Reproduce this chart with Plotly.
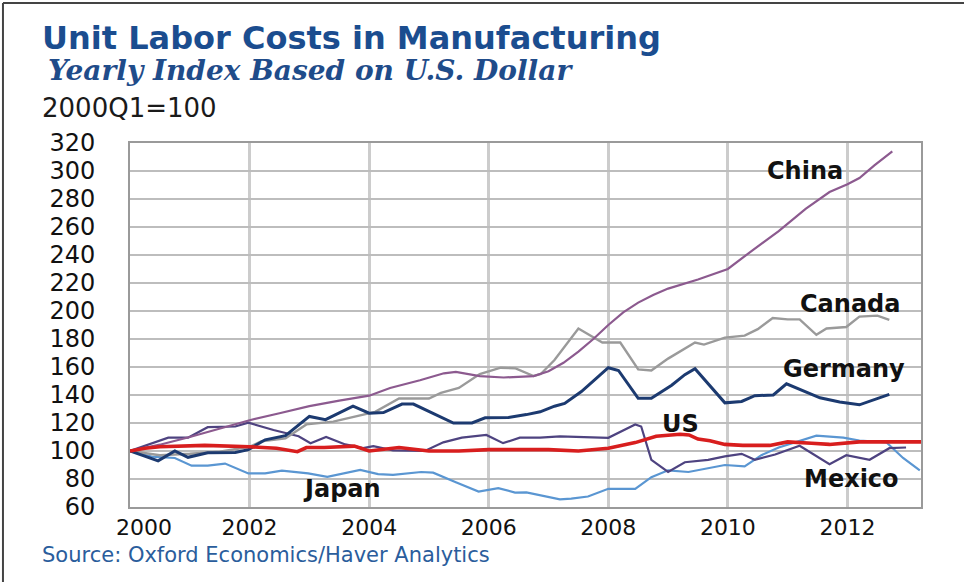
import plotly.graph_objects as go

# Unit labor costs in manufacturing, index 2000Q1 = 100 (x in decimal years)
china_x = [2000, 2000.5, 2001, 2001.5, 2002, 2002.5, 2003, 2003.5, 2004, 2004.35, 2004.85,
           2005.25, 2005.45, 2005.85, 2006.25, 2006.75, 2007.0, 2007.25, 2007.5, 2007.75,
           2008.0, 2008.25, 2008.5, 2008.75, 2009.0, 2009.5, 2010.0, 2010.4, 2010.85,
           2011.3, 2011.7, 2012.0, 2012.2, 2012.45, 2012.75]
china_y = [100, 104.5, 110, 116, 122, 127, 132, 136, 139.5, 145, 150.5,
           155.5, 156.5, 153.5, 152.5, 153.5, 157, 163, 171, 180,
           190, 199, 206, 211.5, 216, 222.5, 230, 243, 257,
           273, 285, 290.5, 295, 304, 314]

canada_x = [2000, 2000.5, 2001, 2001.5, 2002, 2002.2, 2002.6, 2002.95, 2003.4, 2003.9, 2004.1,
            2004.5, 2005.0, 2005.2, 2005.5, 2005.85, 2006.2, 2006.45, 2006.75, 2006.87, 2007.1,
            2007.5, 2007.9, 2008.2, 2008.5, 2008.72, 2009.0, 2009.45, 2009.6, 2009.95, 2010.28,
            2010.5, 2010.75, 2011.0, 2011.2, 2011.48, 2011.65, 2011.98, 2012.2, 2012.5, 2012.7]
canada_y = [100, 97, 98, 99.5, 103, 107, 109, 119, 121, 126, 128,
            137.5, 137.5, 141.5, 145, 155, 159.5, 159, 153.5, 155, 165,
            187.5, 177.5, 177.5, 158.3, 157.5, 166, 177.5, 176, 181, 182.4,
            187, 195, 194, 194, 183, 187.5, 188.6, 196, 196.7, 193.7]

germany_x = [2000, 2000.47, 2000.75, 2000.97, 2001.3, 2001.76, 2001.98, 2002.26, 2002.6, 2003.0,
             2003.27, 2003.73, 2004.0, 2004.24, 2004.55, 2004.74, 2005.41, 2005.72, 2005.94,
             2006.33, 2006.63, 2006.86, 2007.1, 2007.27, 2007.55, 2007.78, 2008.0, 2008.17,
             2008.5, 2008.72, 2009.06, 2009.28, 2009.45, 2009.95, 2010.23, 2010.45, 2010.76,
             2010.98, 2011.26, 2011.54, 2011.87, 2012.2, 2012.7]
germany_y = [100, 93, 100, 95.5, 98.7, 99, 101, 108, 111, 124.7,
             122.4, 132, 127, 127.5, 133.5, 133.5, 120, 120, 123.7,
             124, 126, 128, 132, 134, 142.5, 151, 159.5, 157.5,
             137.6, 137.6, 147, 154.5, 158.8, 134.4, 135.4, 139.5, 140,
             148, 143, 138, 135, 133, 140.5]

us_x = [2000.0, 2000.25, 2000.5, 2000.75, 2001.25, 2002.0, 2002.45, 2002.8, 2002.95, 2003.25,
        2003.6, 2003.75, 2004.0, 2004.25, 2004.5, 2005.0, 2005.5, 2006.0, 2006.5, 2007.0,
        2007.5, 2008.0, 2008.45, 2008.8, 2009.2, 2009.35, 2009.5, 2009.7, 2009.95, 2010.25,
        2010.7, 2011.0, 2011.4, 2011.7, 2012.2, 2012.7, 2013.23]
us_y = [100, 102, 103, 103.5, 104, 103, 102, 99.5, 102.5, 102.5,
        103, 103.5, 100, 101.5, 102.5, 100, 100, 101, 101, 101,
        100, 102, 106, 110.5, 112, 111.5, 108.5, 107.3, 104.7, 104,
        104, 106.5, 105.5, 104.7, 106.5, 106.5, 106.5]

mexico_x = [2000, 2000.64, 2000.97, 2001.3, 2001.76, 2001.98, 2002.4, 2002.82, 2003.02, 2003.28,
            2003.6, 2003.9, 2004.07, 2004.4, 2004.93, 2005.24, 2005.55, 2005.96, 2006.24, 2006.52,
            2006.86, 2007.19, 2008.0, 2008.45, 2008.55, 2008.72, 2009.0, 2009.28, 2009.67,
            2009.95, 2010.23, 2010.45, 2010.79, 2011.2, 2011.7, 2011.98, 2012.37, 2012.7, 2012.98]
mexico_y = [100, 109.5, 109.5, 117, 117.5, 120.2, 115, 110.5, 105.6, 110,
            104.7, 102, 103.4, 100.5, 100, 106.2, 109.5, 111.5, 105.6, 109.5,
            109.5, 110.5, 109.4, 119, 117.5, 93.7, 85, 92, 93.7,
            96.2, 98, 93.7, 97.5, 103.7, 90.5, 97, 93.7, 102, 102.5]

japan_x = [2000, 2000.36, 2000.75, 2001.03, 2001.3, 2001.59, 2001.98, 2002.26, 2002.54, 2002.98,
           2003.3, 2003.6, 2003.85, 2004.15, 2004.4, 2004.87, 2005.07, 2005.46, 2005.83, 2006.16,
           2006.44, 2006.63, 2007.19, 2007.38, 2007.66, 2008.0, 2008.45, 2008.72, 2009.0,
           2009.34, 2009.62, 2009.95, 2010.28, 2010.56, 2010.85, 2011.2, 2011.48, 2011.93,
           2012.2, 2012.65, 2012.93, 2013.21]
japan_y = [100, 96, 95, 89.5, 89.5, 91, 84, 84, 86, 84,
           81.5, 84, 86.5, 83.5, 83, 85, 84.5, 77.5, 71, 73.5,
           70.3, 70.5, 65.5, 66, 67.5, 73, 73, 81.3, 86.2,
           85, 87.5, 90, 89, 97, 102.5, 107.5, 111, 109.5,
           107.5, 106.2, 95, 86.2]

x_ticks = [2000, 2002, 2004, 2006, 2008, 2010, 2012]
x_tick_text = ["\u00a0\u00a0\u00a0\u00a02000", "2002", "2004", "2006", "2008", "2010", "2012"]
y_ticks = list(range(60, 321, 20))

# series: (name, x, y, colour, width, label x, label y)
series = [
    ("Japan", japan_x, japan_y, "#5a96d2", 2.2, 2003.55, 73),
    ("Mexico", mexico_x, mexico_y, "#4e4380", 2.2, 2012.07, 80),
    ("Canada", canada_x, canada_y, "#9a9a9a", 2.4, 2012.04, 205),
    ("China", china_x, china_y, "#8c5a8f", 2.2, 2011.29, 300),
    ("Germany", germany_x, germany_y, "#1c3a70", 3.0, 2011.94, 158.6),
    ("US", us_x, us_y, "#d81e1e", 3.6, 2009.2, 119.3),
]

fig = go.Figure()
for name, xs, ys, color, width, _, _ in series:
    fig.add_trace(go.Scatter(x=xs, y=ys, mode="lines", name=name,
                             line=dict(color=color, width=width),
                             showlegend=False, hoverinfo="skip"))

label_font = dict(family="DejaVu Sans", size=24, color="#111111", weight="bold")
for name, _, _, _, _, lx, ly in series:
    fig.add_annotation(x=lx, y=ly, xref="x", yref="y", text=name, showarrow=False,
                       font=label_font, xanchor="center", yanchor="middle")

# heading block
fig.add_annotation(x=-0.1138, y=1.288, xref="paper", yref="paper", xanchor="left", yanchor="middle",
                   text="Unit Labor Costs in Manufacturing", showarrow=False,
                   font=dict(family="DejaVu Sans", size=32, color="#1b4d8f", weight="bold"))
fig.add_annotation(x=-0.1063, y=1.2, xref="paper", yref="paper", xanchor="left", yanchor="middle",
                   text="<i>Yearly Index Based on U.S. Dollar</i>", showarrow=False,
                   font=dict(family="DejaVu Serif", size=28, color="#1f4c8a", weight="bold"))
fig.add_annotation(x=-0.1138, y=1.096, xref="paper", yref="paper", xanchor="left", yanchor="middle",
                   text="2000Q1=100", showarrow=False,
                   font=dict(family="DejaVu Sans", size=26, color="#1a1a1a"))
fig.add_annotation(x=-0.1138, y=-0.132, xref="paper", yref="paper", xanchor="left", yanchor="middle",
                   text="Source: Oxford Economics/Haver Analytics", showarrow=False,
                   font=dict(family="DejaVu Sans", size=21, color="#2a5d9c"))

# outer frame of the graphic (left and top edges)
fig.add_shape(type="line", xref="paper", yref="paper", x0=-0.1606, x1=-0.1606, y0=-0.21, y1=1.3846,
              line=dict(color="#444444", width=2))
fig.add_shape(type="line", xref="paper", yref="paper", x0=-0.1606, x1=1.06, y0=1.3846, y1=1.3846,
              line=dict(color="#444444", width=2))

fig.update_xaxes(range=[2000, 2013.23], tickvals=x_ticks, ticktext=x_tick_text,
                 showgrid=True, gridcolor="#cccccc", gridwidth=2.5,
                 showline=True, linecolor="#9a9a9a", linewidth=2, mirror=True,
                 ticks="", ticklabelstandoff=0, zeroline=False,
                 tickfont=dict(family="DejaVu Sans", size=22, color="#111111"))
fig.update_yaxes(range=[60, 320], tickvals=y_ticks,
                 showgrid=True, gridcolor="#bdbdbd", gridwidth=1.5,
                 showline=True, linecolor="#9a9a9a", linewidth=2, mirror=True,
                 ticks="", ticklabelstandoff=28, zeroline=False,
                 tickfont=dict(family="DejaVu Sans", size=24, color="#111111"))

fig.update_layout(width=964, height=582, margin=dict(l=130, r=43, t=143, b=75),
                  paper_bgcolor="white", plot_bgcolor="white")

fig.write_html("out.html")
